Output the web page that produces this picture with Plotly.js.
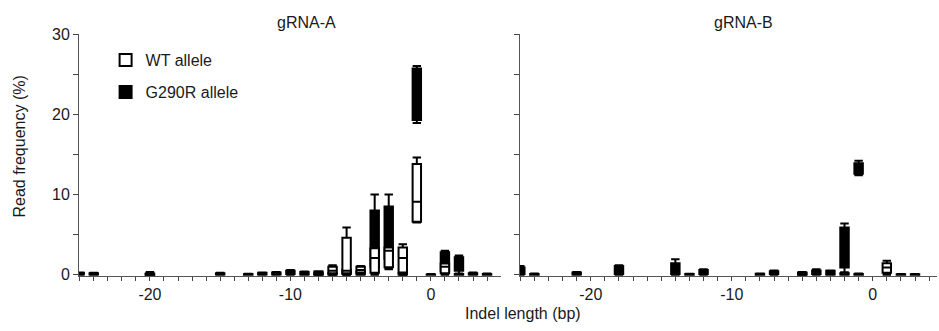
<!DOCTYPE html>
<html>
<head>
<meta charset="utf-8">
<script src="https://cdn.plot.ly/plotly-3.0.1.min.js"></script>
<style>html,body{margin:0;padding:0;background:#fff;}#chart{width:939px;height:331px;}</style>
</head>
<body>
<div id="chart"></div>
<script>
// ---------- Data ----------
const panelTitles = ["gRNA-A", "gRNA-B"];
const seriesNames = ["WT allele", "G290R allele"];
// x ticks at every integer, labels only on these
const xTickVals = [-25, -24, -23, -22, -21, -20, -19, -18, -17, -16, -15, -14, -13, -12, -11, -10,
                   -9, -8, -7, -6, -5, -4, -3, -2, -1, 0, 1, 2, 3, 4, 5];
const xLabelled = {"-20": "-20", "-10": "-10", "0": "0"};
const yTickVals = [0, 5, 10, 15, 20, 25, 30];
const yLabelled = {"0": "0", "10": "10", "20": "20", "30": "30"};

// gRNA-A, WT allele
const aWT_x      = [-20, -8, -7, -6, -5, -4, -3, -2, -1, 1, 2];
const aWT_low    = [0, 0, 0, 0, 0.2, 0, 0.7, 0, 6.5, 0, 0];
const aWT_q1     = [0, 0.05, 0.2, 0.2, 0.3, 0.25, 0.95, 0.3, 6.6, 0.2, 0];
const aWT_med    = [0.05, 0.2, 0.5, 0.5, 0.6, 2.1, 3.0, 2.1, 9.1, 1.0, 0.05];
const aWT_q3     = [0.15, 0.4, 1.0, 4.6, 1.0, 3.3, 3.4, 3.4, 13.8, 1.4, 0.1];
const aWT_high   = [0.35, 0.45, 1.2, 5.9, 1.1, 3.4, 3.6, 3.8, 14.6, 1.5, 0.15];

// gRNA-A, G290R allele
const aMut_x     = [-25, -24, -20, -15, -13, -12, -11, -10, -9, -8, -7, -6, -5, -4, -3, -2, -1, 0, 1, 2, 3, 4];
const aMut_low   = [0, 0, 0, 0, 0, 0, 0, 0, 0, 0, 0, 0, 0, 0.3, 0.8, 0, 18.9, 0, 0.2, 0.1, 0, 0];
const aMut_q1    = [0.05, 0.05, 0, 0.05, 0, 0.05, 0.05, 0.1, 0.05, 0.05, 0.05, 0.1, 0.05, 1.0, 2.0, 0.05, 19.3, 0, 0.5, 0.5, 0.05, 0];
const aMut_med   = [0.1, 0.1, 0.05, 0.1, 0.05, 0.1, 0.15, 0.3, 0.15, 0.1, 0.1, 0.3, 0.2, 5.0, 5.5, 0.1, 23.7, 0.02, 1.6, 1.3, 0.1, 0.05];
const aMut_q3    = [0.25, 0.2, 0.1, 0.2, 0.1, 0.25, 0.3, 0.5, 0.35, 0.2, 0.2, 0.6, 0.4, 8.0, 8.5, 0.2, 25.7, 0.05, 2.8, 2.2, 0.2, 0.1];
const aMut_high  = [0.3, 0.25, 0.2, 0.25, 0.12, 0.3, 0.35, 0.6, 0.4, 0.3, 0.3, 0.7, 0.5, 10.0, 10.0, 0.3, 26.0, 0.1, 3.0, 2.4, 0.3, 0.15];

// gRNA-B, WT allele
const bWT_x      = [-7, -5, -4, -2, -1, 1];
const bWT_low    = [0, 0, 0, 0, 0, 0];
const bWT_q1     = [0.1, 0.05, 0.1, 0.05, 0, 0.25];
const bWT_med    = [0.25, 0.15, 0.3, 0.1, 0.05, 0.9];
const bWT_q3     = [0.45, 0.3, 0.55, 0.2, 0.1, 1.45];
const bWT_high   = [0.55, 0.35, 0.7, 0.3, 0.15, 1.75];

// gRNA-B, G290R allele
const bMut_x     = [-25, -24, -21, -18, -14, -13, -12, -8, -5, -3, -2, -1, 2, 3];
const bMut_low   = [0, 0, 0, 0, 0, 0, 0, 0, 0, 0, 0.3, 12.4, 0, 0];
const bMut_q1    = [0.1, 0, 0.05, 0.1, 0.1, 0, 0.1, 0, 0.05, 0.05, 0.9, 12.6, 0, 0];
const bMut_med   = [0.5, 0.05, 0.15, 0.6, 0.8, 0.05, 0.3, 0.05, 0.1, 0.25, 3.9, 13.3, 0.03, 0.03];
const bMut_q3    = [0.9, 0.1, 0.3, 1.1, 1.45, 0.1, 0.6, 0.12, 0.2, 0.5, 5.9, 13.9, 0.08, 0.08];
const bMut_high  = [1.1, 0.15, 0.35, 1.2, 1.95, 0.12, 0.7, 0.15, 0.25, 0.55, 6.4, 14.2, 0.1, 0.1];

// ---------- Traces ----------
function boxTrace(name, x, lo, q1, med, q3, hi, fill, xa, ya, showleg, rank) {
  return {
    type: "box", name: name, x: x,
    lowerfence: lo, q1: q1, median: med, q3: q3, upperfence: hi,
    boxpoints: false, width: 0.6, whiskerwidth: 1,
    fillcolor: fill, line: {color: "#000", width: 2},
    xaxis: xa, yaxis: ya, showlegend: showleg, legendrank: rank,
    legendgroup: name, hoverinfo: "skip"
  };
}

const data = [
  boxTrace(seriesNames[1], aMut_x, aMut_low, aMut_q1, aMut_med, aMut_q3, aMut_high, "#000", "x", "y", true, 2),
  boxTrace(seriesNames[0], aWT_x, aWT_low, aWT_q1, aWT_med, aWT_q3, aWT_high, "#fff", "x", "y", true, 1),
  boxTrace(seriesNames[1], bMut_x, bMut_low, bMut_q1, bMut_med, bMut_q3, bMut_high, "#000", "x2", "y2", false, 2),
  boxTrace(seriesNames[0], bWT_x, bWT_low, bWT_q1, bWT_med, bWT_q3, bWT_high, "#fff", "x2", "y2", false, 1)
];

const xTickText = xTickVals.map(v => xLabelled[String(v)] || "");
const yTickText = yTickVals.map(v => yLabelled[String(v)] || "");

const fontFam = "Liberation Sans, Arial, Helvetica, sans-serif";
const txtColor = "#1a1a1a";
const xCommon = {
  showline: true, linecolor: "#555", linewidth: 1,
  ticks: "outside", ticklen: 4, tickcolor: "#444", tickwidth: 1,
  tickmode: "array", tickvals: xTickVals, ticktext: xTickText,
  showgrid: false, zeroline: false,
  tickfont: {size: 16, color: txtColor, family: fontFam},
  fixedrange: true
};
const yCommon = {
  range: [-0.15, 30], showline: true, linecolor: "#555", linewidth: 1,
  ticks: "outside", ticklen: 5, tickcolor: "#444", tickwidth: 1,
  tickmode: "array", tickvals: yTickVals, ticktext: yTickText,
  showgrid: false, zeroline: false,
  tickfont: {size: 16, color: txtColor, family: fontFam},
  fixedrange: true
};

const layout = {
  width: 939, height: 331,
  margin: {l: 79, r: 2, t: 34, b: 55},
  paper_bgcolor: "#fff", plot_bgcolor: "#fff",
  font: {family: fontFam, color: txtColor, size: 16},
  boxmode: "overlay",
  xaxis: Object.assign({}, xCommon, {domain: [0, 0.4918], range: [-25.05, 4.99], anchor: "y"}),
  xaxis2: Object.assign({}, xCommon, {domain: [0.514, 1], range: [-25.02, 4.56], anchor: "y2"}),
  yaxis: Object.assign({}, yCommon, {anchor: "x"}),
  yaxis2: Object.assign({}, yCommon, {anchor: "x2", matches: "y", showticklabels: false}),
  showlegend: true,
  legend: {x: 0.031, y: 0.962, xanchor: "left", yanchor: "top",
    font: {size: 16, family: fontFam, color: txtColor}, bgcolor: "rgba(0,0,0,0)",
    traceorder: "grouped", tracegroupgap: 8},
  annotations: [
    {text: panelTitles[0], xref: "x domain", yref: "paper", x: 0.538, y: 1, yshift: 22, showarrow: false,
     font: {size: 16, family: fontFam, color: txtColor}},
    {text: panelTitles[1], xref: "x2 domain", yref: "paper", x: 0.535, y: 1, yshift: 22, showarrow: false,
     font: {size: 16, family: fontFam, color: txtColor}},
    {text: "Indel length (bp)", xref: "paper", yref: "paper", x: 0.517, y: 0, yanchor: "middle", yshift: -37, showarrow: false,
     font: {size: 16, family: fontFam, color: txtColor}},
    {text: "Read frequency (%)", xref: "paper", yref: "paper", x: 0, xanchor: "center", xshift: -59,
     y: 0.535, yanchor: "middle", textangle: -90, showarrow: false,
     font: {size: 16, family: fontFam, color: txtColor}}
  ]
};

Plotly.newPlot("chart", data, layout, {displayModeBar: false, staticPlot: true});
</script>
</body>
</html>
